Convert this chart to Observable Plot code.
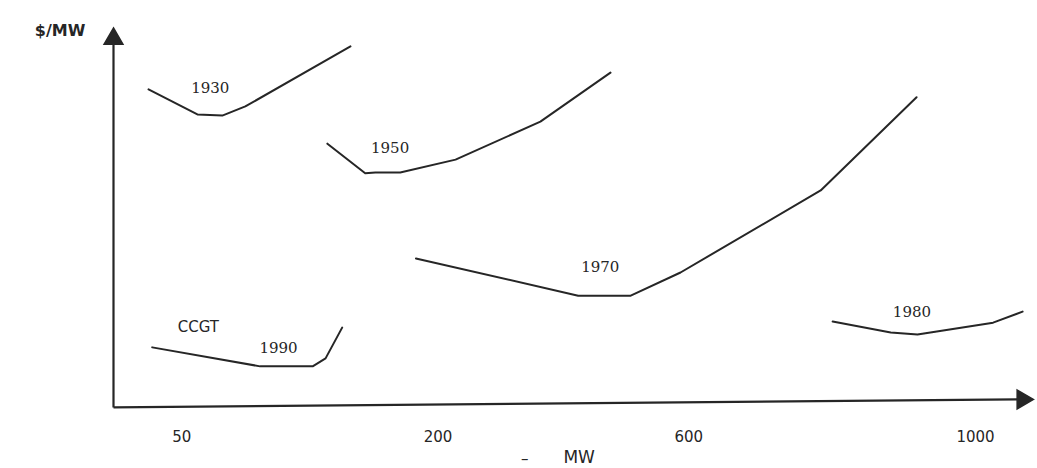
<!DOCTYPE html>
<html>
<head>
<meta charset="utf-8">
<script src="https://cdn.jsdelivr.net/npm/d3@7"></script>
<script src="https://cdn.jsdelivr.net/npm/@observablehq/plot@0.6"></script>
<style>
  html, body { margin: 0; padding: 0; background: #fff; }
  #chart svg { display: block; }
</style>
</head>
<body>
<div id="chart"></div>
<script>
// Curves: x = position along MW axis (sketch units 0–100), y = $/MW (sketch units 0–100)
const curve1930 = [[3.8, 83.2], [9.1, 76.6], [11.8, 76.3], [14.3, 78.7], [25.7, 94.5]];
const curve1950 = [[23.2, 68.9], [27.3, 61.1], [28.4, 61.3], [31.1, 61.3], [37.1, 64.7], [46.3, 74.7], [53.9, 87.6]];
const curve1970 = [[32.8, 38.7], [50.4, 28.9], [56.1, 28.9], [61.5, 35.0], [76.7, 56.6], [87.1, 81.1]];
const curve1980 = [[78.0, 22.1], [84.3, 19.2], [87.2, 18.7], [95.4, 21.8], [98.6, 24.7]];
const curve1990 = [[4.2, 15.3], [15.9, 10.3], [21.6, 10.3], [23.0, 12.4], [24.8, 20.5]];

const curveNames = ["1930", "1950", "1970", "1980", "1990"];
const curveData = [curve1930, curve1950, curve1970, curve1980, curve1990];

// Curve labels
const labelText = ["1930", "1950", "1970", "1980", "1990", "CCGT"];
const labelX = [10.5, 30.0, 52.8, 86.6, 17.9, 9.2];
const labelY = [83.4, 67.6, 36.3, 24.5, 15.0, 20.5];

// X tick labels (MW), placed at sketch positions
const tickLabels = ["50", "200", "600", "1000"];
const tickPos = [7.4, 35.2, 62.4, 93.5];

const yTitle = "$/MW";
const xTitle = "MW";

const rows = curveNames.flatMap((name, i) => curveData[i].map(([x, y]) => ({name, x, y})));
const labels = labelText.map((t, i) => ({t, x: labelX[i], y: labelY[i]}));
const ticks = tickLabels.map((t, i) => ({t, x: tickPos[i]}));

const ink = "#262626";

const chart = Plot.plot({
  width: 1037,
  height: 468,
  marginLeft: 113,
  marginRight: 2,
  marginTop: 25,
  marginBottom: 63,
  x: {domain: [0, 100], axis: null},
  y: {domain: [0, 100], axis: null},
  style: {background: "#fff"},
  marks: [
    // axes
    Plot.link([{x1: 0, y1: -0.5, x2: 0, y2: 96}], {x1: "x1", y1: "y1", x2: "x2", y2: "y2", stroke: ink, strokeWidth: 2.2}),
    Plot.link([{x1: 0, y1: -0.5, x2: 98, y2: 1.6}], {x1: "x1", y1: "y1", x2: "x2", y2: "y2", stroke: ink, strokeWidth: 2.2}),
    Plot.dot([{x: 0, y: 96.5}], {x: "x", y: "y", symbol: "triangle", r: 7, fill: ink, stroke: ink}),
    Plot.dot([{x: 98.6, y: 1.6}], {x: "x", y: "y", symbol: "triangle", r: 7, rotate: 90, fill: ink, stroke: ink}),
    // curves
    Plot.line(rows, {x: "x", y: "y", z: "name", stroke: ink, strokeWidth: 2, curve: "linear"}),
    // curve labels
    Plot.text(labels.filter(d => d.t !== "CCGT"), {x: "x", y: "y", text: "t", fill: ink, fontSize: 15, fontFamily: "DejaVu Serif, serif", letterSpacing: "1px"}),
    Plot.text(labels.filter(d => d.t === "CCGT"), {x: "x", y: "y", text: "t", fill: ink, fontSize: 15, fontFamily: "DejaVu Sans, sans-serif", letterSpacing: "1.5px"}),
    // tick labels
    Plot.text(ticks, {x: "x", y: -8.4, text: "t", fill: ink, fontSize: 15, fontFamily: "DejaVu Sans, sans-serif"}),
    // axis titles
    Plot.text([yTitle], {x: -5.8, y: 98.7, text: d => d, fill: ink, fontSize: 16, fontWeight: "bold", fontFamily: "DejaVu Sans, sans-serif", letterSpacing: "1px"}),
    Plot.text([xTitle], {x: 50.5, y: -13.6, text: d => d, fill: ink, fontSize: 17, fontFamily: "DejaVu Sans, sans-serif", letterSpacing: "1px"}),
    Plot.text(["–"], {x: 44.6, y: -14.2, text: d => d, fill: ink, fontSize: 15, fontFamily: "DejaVu Sans, sans-serif"})
  ]
});
document.getElementById("chart").append(chart);
</script>
</body>
</html>
